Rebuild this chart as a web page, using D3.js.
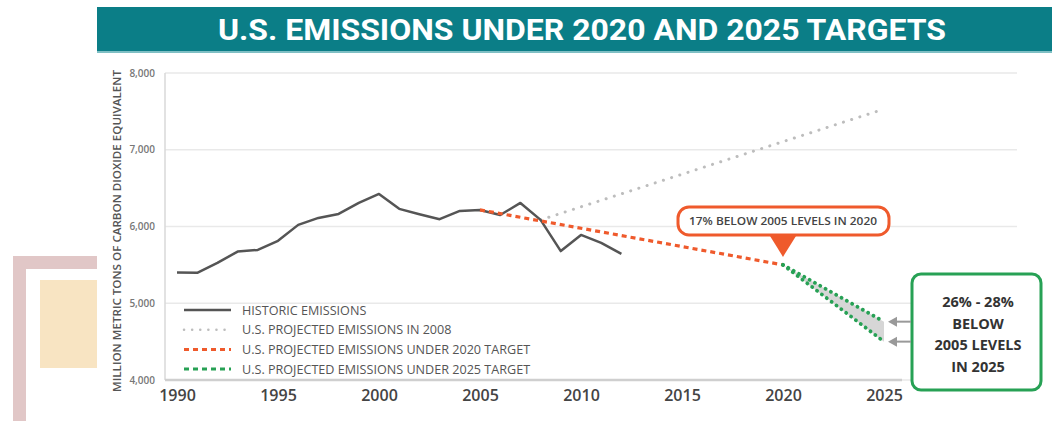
<!DOCTYPE html>
<html>
<head>
<meta charset="utf-8">
<script src="https://cdn.jsdelivr.net/npm/d3@7"></script>
<style>
  body { margin: 0; background: #fff; }
  svg { display: block; }
</style>
</head>
<body>
<div id="chart"></div>
<script>
// historic emissions, million metric tons CO2 eq
var histYears = [1990,1991,1992,1993,1994,1995,1996,1997,1998,1999,2000,2001,2002,2003,2004,2005,2006,2007,2008,2009,2010,2011,2012];
var histValues = [5400,5396,5526,5673,5695,5813,6021,6112,6164,6307,6424,6230,6160,6095,6203,6216,6150,6307,6086,5680,5890,5786,5643];

// projections
var proj2008Years = [2008, 2025];
var proj2008Values = [6086, 7530];
var target2020Years = [2005, 2020];
var target2020Values = [6216, 5500];
var target2025Years = [2020, 2025];
var target2025High = [5500, 4760];
var target2025Low = [5500, 4500];

var xTicks = [1990, 1995, 2000, 2005, 2010, 2015, 2020, 2025];
var yTicks = [4000, 5000, 6000, 7000, 8000];

var legendLabels = ["HISTORIC EMISSIONS", "U.S. PROJECTED EMISSIONS IN 2008",
  "U.S. PROJECTED EMISSIONS UNDER 2020 TARGET", "U.S. PROJECTED EMISSIONS UNDER 2025 TARGET"];
var titleText = "U.S. EMISSIONS UNDER 2020 AND 2025 TARGETS";
var callout2020 = "17% BELOW 2005 LEVELS IN 2020";
var callout2025 = ["26% - 28%", "BELOW", "2005 LEVELS", "IN 2025"];

var W = 1052, H = 421;
var orange = "#ef5a2c", green = "#27a155", grayDot = "#bdbdbd", dark = "#555";

var svg = d3.select("#chart").append("svg").attr("width", W).attr("height", H);

// faded picture peeking out on the left
var deco = svg.append("g").attr("opacity", 0.55);
deco.append("rect").attr("x", 40).attr("y", 280).attr("width", 57).attr("height", 88).attr("fill", "#f3cf92");
deco.append("rect").attr("x", 13).attr("y", 256).attr("width", 84).attr("height", 13).attr("fill", "#c99a9a");
deco.append("rect").attr("x", 13).attr("y", 256).attr("width", 13).attr("height", 165).attr("fill", "#c99a9a");

// title bar
svg.append("rect").attr("x", 97).attr("y", 7).attr("width", W - 97).attr("height", 45).attr("fill", "#0b7e87");
svg.append("rect").attr("x", 97).attr("y", 51).attr("width", W - 97).attr("height", 2).attr("fill", "#7fbfc4");
svg.append("text")
  .attr("x", 582).attr("y", 40)
  .attr("text-anchor", "middle")
  .attr("textLength", 728).attr("lengthAdjust", "spacingAndGlyphs")
  .style("font-family", "'Liberation Sans Narrow', Roboto, sans-serif")
  .style("font-weight", "bold").style("font-size", "30px")
  .attr("fill", "#fff")
  .text(titleText);

var x = d3.scaleLinear().domain([1990, 2025]).range([177, 884]);
var y = d3.scaleLinear().domain([4000, 8000]).range([380, 73]);

// grid
svg.append("g").selectAll("line").data(yTicks).enter().append("line")
  .attr("x1", 165).attr("x2", 1017)
  .attr("y1", function(d){return y(d);}).attr("y2", function(d){return y(d);})
  .style("stroke", "#e9e9e9").style("stroke-width", 1.5);

// y axis line
svg.append("line").attr("x1", 165).attr("x2", 165).attr("y1", y(8000)).attr("y2", y(4000))
  .style("stroke", "#d8d8d8").style("stroke-width", 1.5);
// x axis line
svg.append("line").attr("x1", 165).attr("x2", 902).attr("y1", y(4000)).attr("y2", y(4000))
  .style("stroke", "#cfcfcf").style("stroke-width", 2.5);

// y tick labels
var yAxis = svg.append("g").attr("transform", "translate(155,0)")
  .call(d3.axisLeft(y).tickValues(yTicks).tickSize(0).tickFormat(d3.format(",")));
yAxis.select(".domain").remove();
yAxis.selectAll("text")
  .style("font-family", "'Open Sans', sans-serif").style("font-size", "10px")
  .style("font-weight", "600").attr("fill", "#777").attr("x", 0);

// x tick labels
var xAxis = svg.append("g").attr("transform", "translate(0," + y(4000) + ")")
  .call(d3.axisBottom(x).tickValues(xTicks).tickSize(0).tickFormat(d3.format("d")));
xAxis.select(".domain").remove();
xAxis.selectAll("text")
  .attr("y", 10)
  .style("font-family", "'Open Sans', sans-serif").style("font-size", "16px")
  .style("font-weight", "600").attr("fill", "#444");

// y axis title
svg.append("text")
  .attr("transform", "translate(121," + 231 + ") rotate(-90)")
  .attr("text-anchor", "middle")
  .attr("textLength", 322).attr("lengthAdjust", "spacingAndGlyphs")
  .style("font-family", "'Open Sans', sans-serif").style("font-size", "10px").style("font-weight", "600")
  .attr("fill", "#555")
  .text("MILLION METRIC TONS OF CARBON DIOXIDE EQUIVALENT");

var line = d3.line().x(function(d){return x(d[0]);}).y(function(d){return y(d[1]);});
function pairs(xs, vs){ return xs.map(function(v, i){ return [v, vs[i]]; }); }

// band between the two 2025 paths
var band = target2025Years.map(function(yr, i){ return {yr: yr, hi: target2025High[i], lo: target2025Low[i]}; });
svg.append("path").datum(band)
  .attr("d", d3.area().x(function(d){return x(d.yr);}).y0(function(d){return y(d.lo);}).y1(function(d){return y(d.hi);}))
  .attr("fill", "#d6d6d6");

// 2008 projection
svg.append("path").datum(pairs(proj2008Years, proj2008Values))
  .attr("d", line).attr("fill", "none")
  .style("stroke", grayDot).style("stroke-width", 3).style("stroke-linecap", "round")
  .style("stroke-dasharray", "0.1 8.5");

// historic
svg.append("path").datum(pairs(histYears, histValues))
  .attr("d", line).attr("fill", "none")
  .style("stroke", dark).style("stroke-width", 2.5).style("stroke-linejoin", "round");

// 2020 target
svg.append("path").datum(pairs(target2020Years, target2020Values))
  .attr("d", line).attr("fill", "none")
  .style("stroke", orange).style("stroke-width", 3.2)
  .style("stroke-dasharray", "5 4");

// 2025 targets
[target2025High, target2025Low].forEach(function(vals){
  svg.append("path").datum(pairs(target2025Years, vals))
    .attr("d", line).attr("fill", "none")
    .style("stroke", green).style("stroke-width", 3.8).style("stroke-linecap", "round")
    .style("stroke-dasharray", "0.1 6");
});

// legend
var legendStyles = [
  {stroke: dark, dash: null, cap: "butt", w: 2.5},
  {stroke: grayDot, dash: "0.1 8", cap: "round", w: 2.5},
  {stroke: orange, dash: "5 4", cap: "butt", w: 3},
  {stroke: green, dash: "5 4", cap: "butt", w: 3}
];
var legend = svg.append("g");
legendLabels.forEach(function(lbl, i){
  var ly = 310 + i * 19.7;
  var s = legendStyles[i];
  legend.append("line").attr("x1", 184).attr("x2", 231).attr("y1", ly).attr("y2", ly)
    .style("stroke", s.stroke).style("stroke-width", s.w).style("stroke-linecap", s.cap)
    .style("stroke-dasharray", s.dash);
  legend.append("text").attr("x", 242).attr("y", ly + 4.5)
    .style("font-family", "'Open Sans', sans-serif").style("font-size", "12.6px")
    .attr("fill", "#555")
    .text(lbl);
});

// 2020 callout
var cx = x(2020), cy = y(5500);
svg.append("rect").attr("x", cx - 105).attr("y", 207).attr("width", 211).attr("height", 28)
  .attr("rx", 11).attr("fill", "#fff").style("stroke", orange).style("stroke-width", 3);
svg.append("path")
  .attr("d", "M" + (cx - 13) + ",236 L" + (cx + 13) + ",236 L" + cx + "," + (cy - 8) + " Z")
  .attr("fill", orange);
svg.append("text").attr("x", cx).attr("y", 225).attr("text-anchor", "middle")
  .attr("textLength", 188).attr("lengthAdjust", "spacingAndGlyphs")
  .style("font-family", "'Open Sans', sans-serif").style("font-size", "10.5px").style("font-weight", "600")
  .attr("fill", "#444")
  .text(callout2020);

// 2025 callout
svg.append("rect").attr("x", 912).attr("y", 274).attr("width", 129).attr("height", 116)
  .attr("rx", 9).attr("fill", "#fff").style("stroke", green).style("stroke-width", 3);
callout2025.forEach(function(t, i){
  svg.append("text").attr("x", 978).attr("y", 307 + i * 21.5).attr("text-anchor", "middle")
    .style("font-family", "'Open Sans', sans-serif").style("font-size", "14.5px").style("font-weight", "bold")
    .attr("fill", "#333")
    .text(t);
});
// arrows
[target2025High[1], target2025Low[1]].forEach(function(v){
  var ay = y(v), ax = x(2025) + 4;
  svg.append("line").attr("x1", ax + 6).attr("x2", 911).attr("y1", ay).attr("y2", ay)
    .style("stroke", "#999").style("stroke-width", 2);
  svg.append("path").attr("d", "M" + ax + "," + ay + " l9,-5 l0,10 Z").attr("fill", "#999");
});
</script>
</body>
</html>
